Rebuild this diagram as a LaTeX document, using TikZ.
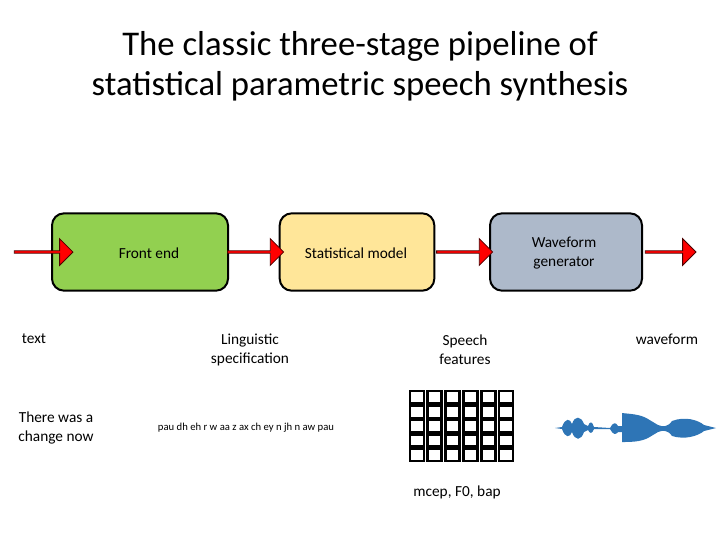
\documentclass[tikz,border=0pt]{standalone}
\usepackage{fontspec}
\setmainfont{Carlito}
\usetikzlibrary{shapes.arrows}
\definecolor{fegreen}{RGB}{146,208,80}
\definecolor{smyellow}{RGB}{255,230,153}
\definecolor{wggray}{RGB}{173,185,202}
\definecolor{arrred}{RGB}{255,0,0}
\definecolor{wavblue}{RGB}{46,117,182}
\begin{document}
\begin{tikzpicture}[x=0.75pt,y=-0.75pt,
  stage/.style={draw=black,line width=1.5pt,rounded corners=9pt,minimum width=132pt,minimum height=58pt},
  arr/.style={single arrow,draw=black!70!red,fill=arrred,line width=0.6pt,minimum height=#1,minimum width=20pt,single arrow head extend=3pt,inner sep=0pt,single arrow tip angle=90},
  lbl/.style={font=\fontsize{11.5}{14}\selectfont,align=center},
  cell/.style={draw=black,line width=2pt}]
\useasboundingbox (0,0) rectangle (720,540);
\node[font=\fontsize{26}{30}\selectfont,align=center] (title) at (360,66) {The classic three-stage pipeline of\\statistical parametric speech synthesis};
\node[stage,fill=fegreen,minimum width=132pt] (fe) at (140,252) {};
\node[stage,fill=smyellow,minimum width=116pt] (sm) at (357,252) {};
\node[stage,fill=wggray,minimum width=114pt] (wg) at (566,252) {};
\node[lbl] (fet) at (149,253) {Front end};
\node[lbl] (smt) at (356,253) {Statistical model};
\node[lbl] (wgt) at (564,253) {Waveform\\generator};
\node[arr=44pt] (a1) at (43,252) {};
\node[arr=42pt] (a2) at (255,252) {};
\node[arr=42pt] (a3) at (464,252) {};
\node[arr=38pt] (a4) at (670,252) {};
\node[lbl] (t1) at (34,339) {text};
\node[lbl] (t2) at (250,350) {Linguistic\\specification};
\node[lbl] (t3) at (465,350) {Speech\\features};
\node[lbl] (t4) at (667,339) {waveform};
\node[lbl] (t5) at (56,428) {There was a\\change now};
\node[font=\fontsize{8}{10}\selectfont] (ph) at (246,428) {pau dh eh r w aa z ax ch ey n jh n aw pau};
\node[lbl] (mc) at (457,492) {mcep, F0, bap};
\foreach \c in {0,...,5}{
  \foreach \r in {0,...,4}{
    \draw[cell] ({410+\c*17.8},{391+\r*14.4}) rectangle ({424+\c*17.8},{403.5+\r*14.4});
  }
}
\fill[wavblue] (555,428)
  -- (562,427) .. controls (565,418) and (570,418) .. (572,424)
  .. controls (575,415) and (581,416) .. (584,424) -- (588,426)
  .. controls (590,421) and (592,421) .. (594,427) -- (610,428)
  .. controls (613,422) and (616,422) .. (618,426) -- (622,426)
  -- (622,413) .. controls (630,414) and (640,414) .. (648,419)
  -- (658,425) .. controls (663,427) and (668,427) .. (672,421)
  .. controls (685,416) and (698,420) .. (704,425) -- (716,428)
  -- (704,431) .. controls (698,436) and (685,440) .. (672,436)
  .. controls (668,430) and (663,430) .. (658,432)
  -- (648,438) .. controls (640,442) and (630,442) .. (622,442)
  -- (622,432) -- (618,432) .. controls (616,435) and (613,435) .. (610,429)
  -- (594,429) .. controls (592,434) and (590,434) .. (588,430) -- (584,432)
  .. controls (581,441) and (575,441) .. (572,432)
  .. controls (570,438) and (565,438) .. (562,429) -- cycle;
\end{tikzpicture}
\end{document}
